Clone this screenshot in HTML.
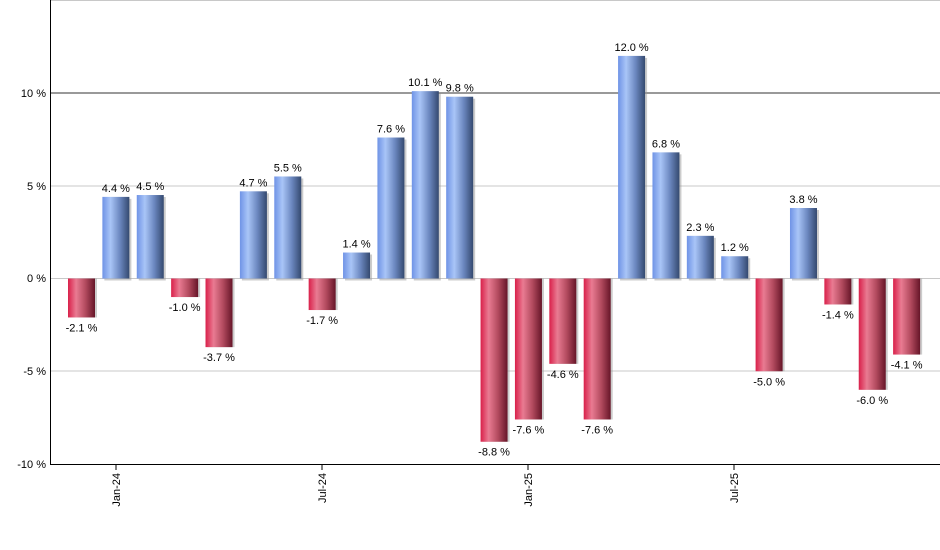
<!DOCTYPE html>
<html><head><meta charset="utf-8"><style>
html,body{margin:0;padding:0;background:#fff;}
svg{display:block;font-family:"Liberation Sans",sans-serif;}
</style></head><body>
<svg id="c" width="940" height="550" xmlns="http://www.w3.org/2000/svg">
<defs>
<linearGradient id="gb" x1="0" x2="1" y1="0" y2="0">
<stop offset="0" stop-color="#6f93e6"/><stop offset="0.3" stop-color="#a9c5f7"/><stop offset="0.65" stop-color="#6b87bf"/><stop offset="1" stop-color="#34496f"/>
</linearGradient>
<linearGradient id="gr" x1="0" x2="1" y1="0" y2="0">
<stop offset="0" stop-color="#d9204a"/><stop offset="0.3" stop-color="#e97b92"/><stop offset="0.65" stop-color="#b24a5e"/><stop offset="1" stop-color="#661528"/>
</linearGradient>
</defs>
<line x1="50" y1="0.5" x2="940" y2="0.5" stroke="#c8c8c8"/>
<line x1="50" y1="186" x2="940" y2="186" stroke="#c8c8c8"/>
<line x1="50" y1="278.5" x2="940" y2="278.5" stroke="#c8c8c8"/>
<line x1="50" y1="371" x2="940" y2="371" stroke="#c8c8c8"/>
<line x1="50" y1="93" x2="940" y2="93" stroke="#333"/>
<g font-size="11" fill="#000" text-anchor="end">
<text x="46" y="97">10 %</text><text x="46" y="190">5 %</text><text x="46" y="282">0 %</text><text x="46" y="375">-5 %</text><text x="46" y="468">-10 %</text>
</g>
<g id="bars"></g>
<line x1="50.5" y1="0" x2="50.5" y2="464" stroke="#000"/>
<line x1="50" y1="464.5" x2="940" y2="464.5" stroke="#000"/>
<g font-size="11" stroke="#000">
<line x1="116" y1="464" x2="116" y2="470"/><line x1="322" y1="464" x2="322" y2="470"/><line x1="528" y1="464" x2="528" y2="470"/><line x1="734" y1="464" x2="734" y2="470"/>
</g>
<g font-size="11" fill="#000" text-anchor="end">
<text transform="translate(120,473) rotate(-90)">Jan-24</text>
<text transform="translate(326,473) rotate(-90)">Jul-24</text>
<text transform="translate(532,473) rotate(-90)">Jan-25</text>
<text transform="translate(738,473) rotate(-90)">Jul-25</text>
</g>
</svg>
<script>
var v=[-2.1,4.4,4.5,-1.0,-3.7,4.7,5.5,-1.7,1.4,7.6,10.1,9.8,-8.8,-7.6,-4.6,-7.6,12.0,6.8,2.3,1.2,-5.0,3.8,-1.4,-6.0,-4.1];
var g=document.getElementById('bars'),s='';
var z=278.5,k=18.55;
v.forEach(function(d,i){
 var cx=81.5+i*34.38,x=cx-13.5,w=27,h=Math.abs(d)*k,y=d>=0?z-h:z;
 s+='<rect x="'+(x+2)+'" y="'+(y+(d>=0?2:0))+'" width="'+w+'" height="'+h+'" fill="#999" opacity="0.5"/>';
 s+='<rect x="'+x+'" y="'+y+'" width="'+w+'" height="'+h+'" fill="url(#'+(d>=0?'gb':'gr')+')"/>';
 var ty=d>=0?y-5:y+h+14;
 s+='<text x="'+cx+'" y="'+ty+'" font-size="11" text-anchor="middle" fill="#000">'+d.toFixed(1)+' %</text>';
});
g.innerHTML=s;
</script>
</body></html>
